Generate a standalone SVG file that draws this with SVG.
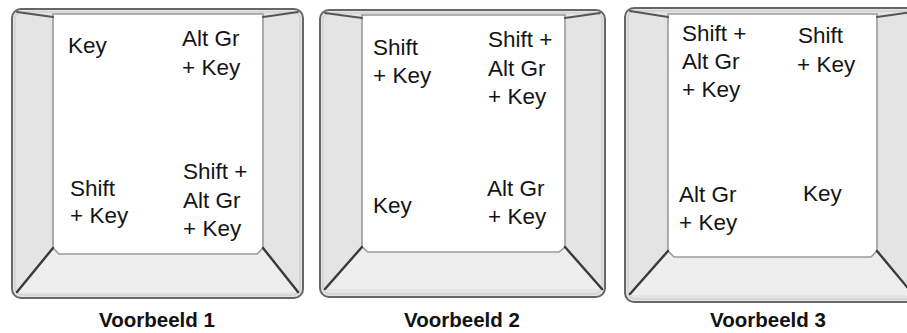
<svg xmlns="http://www.w3.org/2000/svg" width="907" height="333" viewBox="0 0 907 333">
<style>
.outer{fill:#e4e4e4;stroke:#666666;stroke-width:2}
.hl{fill:none;stroke:#c8c8c8;stroke-width:1}
.bottom{fill:#eeeeee}
.face{fill:#ffffff;stroke:#9a9a9a;stroke-width:1.6}
.diag{stroke:#3a3a3a;stroke-width:2.4;stroke-linecap:round}
.tdiag{stroke:#555;stroke-width:2;stroke-linecap:round}
.lbl{font-family:"Liberation Sans",Arial,sans-serif;font-size:22.5px;fill:#141414}
.cap{font-family:"Liberation Sans",Arial,sans-serif;font-size:20.5px;font-weight:bold;fill:#111;text-anchor:middle}
</style>
<rect width="907" height="333" fill="#ffffff"/>

<g id="key1">
<rect class="outer" x="12" y="9" width="291" height="289" rx="9"/>
<rect class="hl" x="15" y="12" width="285" height="283" rx="7"/>
<path class="bottom" d="M53,248 L263,248 L299,292 L16,292 Z"/>
<path class="face" d="M53,14 L263,14 L263,248 L257,254 L59,254 L53,248 Z"/>
<line class="diag" x1="53" y1="248" x2="17" y2="292"/>
<line class="diag" x1="263" y1="248" x2="298" y2="292"/>
<line class="tdiag" x1="17" y1="12" x2="53" y2="17"/>
<line class="tdiag" x1="263" y1="17" x2="298" y2="12"/>
<text class="lbl" x="68" y="53">Key</text>
<text class="lbl" x="182" y="46">Alt Gr</text>
<text class="lbl" x="182" y="75">+ Key</text>
<text class="lbl" x="70" y="196">Shift</text>
<text class="lbl" x="70" y="223">+ Key</text>
<text class="lbl" x="183" y="179">Shift +</text>
<text class="lbl" x="183" y="208">Alt Gr</text>
<text class="lbl" x="183" y="236">+ Key</text>
</g>

<g id="key2">
<rect class="outer" x="320" y="10" width="285" height="287" rx="9"/>
<rect class="hl" x="323" y="13" width="279" height="281" rx="7"/>
<path class="bottom" d="M362,247 L565,247 L602,289 L324,289 Z"/>
<path class="face" d="M362,15 L565,15 L565,247 L559,252 L368,252 L362,247 Z"/>
<line class="diag" x1="362" y1="247" x2="325" y2="289"/>
<line class="diag" x1="565" y1="247" x2="602" y2="289"/>
<line class="tdiag" x1="325" y1="13" x2="362" y2="18"/>
<line class="tdiag" x1="565" y1="18" x2="600" y2="13"/>
<text class="lbl" x="373" y="55">Shift</text>
<text class="lbl" x="373" y="83">+ Key</text>
<text class="lbl" x="488" y="47">Shift +</text>
<text class="lbl" x="488" y="76">Alt Gr</text>
<text class="lbl" x="488" y="104">+ Key</text>
<text class="lbl" x="373" y="213">Key</text>
<text class="lbl" x="487" y="196">Alt Gr</text>
<text class="lbl" x="488" y="224">+ Key</text>
</g>

<g id="key3">
<rect class="outer" x="625" y="8" width="292" height="294" rx="9"/>
<rect class="hl" x="628" y="11" width="286" height="288" rx="7"/>
<path class="bottom" d="M668,251 L877,251 L915,295 L629,295 Z"/>
<path class="face" d="M668,14 L877,14 L877,251 L871,257 L674,257 L668,251 Z"/>
<line class="diag" x1="668" y1="251" x2="630" y2="294"/>
<line class="diag" x1="877" y1="251" x2="912" y2="293"/>
<line class="tdiag" x1="630" y1="11" x2="668" y2="17"/>
<line class="tdiag" x1="877" y1="17" x2="912" y2="12"/>
<text class="lbl" x="682" y="41">Shift +</text>
<text class="lbl" x="682" y="69">Alt Gr</text>
<text class="lbl" x="682" y="97">+ Key</text>
<text class="lbl" x="798" y="43">Shift</text>
<text class="lbl" x="797" y="72">+ Key</text>
<text class="lbl" x="679" y="202">Alt Gr</text>
<text class="lbl" x="679" y="230">+ Key</text>
<text class="lbl" x="803" y="201">Key</text>
</g>

<g id="captions">
<text class="cap" x="157" y="327">Voorbeeld 1</text>
<text class="cap" x="462" y="327">Voorbeeld 2</text>
<text class="cap" x="768" y="327">Voorbeeld 3</text>
</g>
<g id="connectors"/>
</svg>
